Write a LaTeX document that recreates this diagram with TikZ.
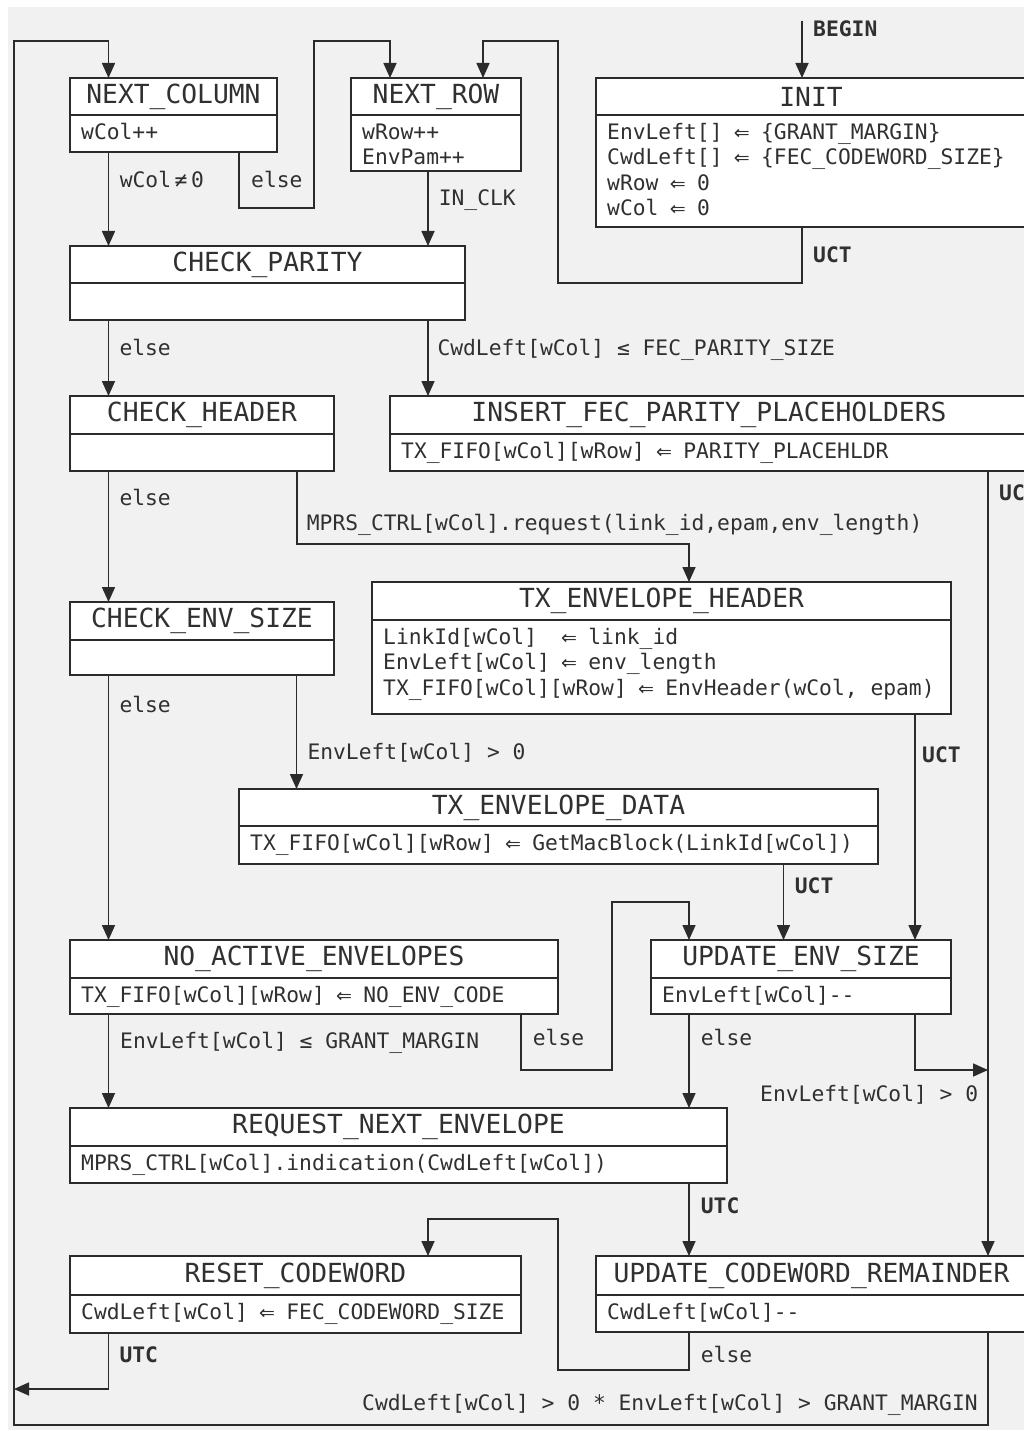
\documentclass[tikz,border=0pt]{standalone}
\usepackage{fontspec}
\usetikzlibrary{arrows.meta}
\newfontfamily\dvmono{DejaVu Sans Mono}
\newfontfamily\dvsans{DejaVu Sans}
\newcommand\hdrfont{\dvmono\fontsize{26.3pt}{30pt}\selectfont}
\newcommand\bodyfont{\dvmono\fontsize{21.3pt}{25pt}\selectfont}
% assignment arrow, set one monospace cell wide
\newcommand\assign{\makebox[12.85pt][c]{\dvsans\fontsize{19pt}{19pt}\selectfont ⇐}}
\definecolor{bggray}{HTML}{F1F1F1}
\definecolor{ink}{HTML}{2B2B2B}
\definecolor{txt}{HTML}{303030}

\tikzset{
  hdrbox/.style={draw=ink, line width=1.6pt, fill=white, inner sep=0pt, outer sep=0pt,
    anchor=north west, font=\hdrfont, text=txt},
  bodybox/.style={draw=ink, line width=1.6pt, fill=white, inner sep=0pt, outer sep=0pt,
    anchor=north west},
  bodytxt/.style={anchor=base west, inner sep=0pt, font=\bodyfont, text=txt},
  lbl/.style={anchor=base west, inner sep=0pt, font=\bodyfont, text=txt},
  lblb/.style={lbl, font=\bodyfont\bfseries},
  conn/.style={draw=ink, line width=1.6pt, -{Triangle[length=15pt,width=13pt]}},
}

% state: title row and action row
% #1 name, #2 left, #3 top, #4 right, #5 divider, #6 bottom, #7 title
\newcommand\statebox[7]{%
  \node[hdrbox, minimum width={(#4-#2)*1pt}, minimum height={(#5-#3)*1pt}] (#1) at (#2,#3) {#7};
  \node[bodybox, minimum width={(#4-#2)*1pt}, minimum height={(#6-#5)*1pt}] (#1-b) at (#2,#5) {};
}
% action lines: #1 name, #2 left, #3 divider, #4 list of lines
\newcommand\bodylines[4]{%
  \foreach \bl [count=\i] in {#4} {
    \node[bodytxt] (#1-t\i) at ({#2+11},{#3+24.5+(\i-1)*25.3}) {\bl};
  }
}

\begin{document}
\begin{tikzpicture}[x=1pt, y=-1pt]
\useasboundingbox (0,0) rectangle (1024,1431);
\fill[white] (0,0) rectangle (1024,1431);
\fill[bggray] (8,7) rectangle (1024,1430);

% ---- states ----
\statebox{ncol}{70}{78}{277}{115}{152}{NEXT\_COLUMN}
\bodylines{ncol}{70}{115}{wCol++}

\statebox{nrow}{351}{78}{521}{115}{171}{NEXT\_ROW}
\bodylines{nrow}{351}{115}{wRow++,EnvPam++}

\statebox{init}{596}{78}{1026}{115}{227}{INIT}
\bodylines{init}{596}{115}{EnvLeft[] \assign{} \{GRANT\_MARGIN\},CwdLeft[] \assign{} \{FEC\_CODEWORD\_SIZE\},wRow \assign{} 0,wCol \assign{} 0}

\statebox{cpar}{70}{246}{465}{283}{320}{CHECK\_PARITY}

\statebox{chdr}{70}{396}{334}{434}{471}{CHECK\_HEADER}

\statebox{ifec}{390}{396}{1028}{434}{471}{INSERT\_FEC\_PARITY\_PLACEHOLDERS}
\bodylines{ifec}{390}{434}{TX\_FIFO[wCol][wRow] \assign{} PARITY\_PLACEHLDR}

\statebox{tehd}{372}{582}{951}{620}{714}{TX\_ENVELOPE\_HEADER}
\bodylines{tehd}{372}{620}{LinkId[wCol]\ \ \assign{} link\_id,EnvLeft[wCol] \assign{} env\_length,{TX\_FIFO[wCol][wRow] \assign{} EnvHeader(wCol, epam)}}

\statebox{cenv}{70}{602}{334}{640}{675}{CHECK\_ENV\_SIZE}

\statebox{tedt}{239}{789}{878}{826}{864}{TX\_ENVELOPE\_DATA}
\bodylines{tedt}{239}{826}{TX\_FIFO[wCol][wRow] \assign{} GetMacBlock(LinkId[wCol])}

\statebox{noae}{70}{940}{558}{978}{1014}{NO\_ACTIVE\_ENVELOPES}
\bodylines{noae}{70}{978}{TX\_FIFO[wCol][wRow] \assign{} NO\_ENV\_CODE}

\statebox{uenv}{651}{940}{951}{978}{1014}{UPDATE\_ENV\_SIZE}
\bodylines{uenv}{651}{978}{EnvLeft[wCol]{-}{-}}

\statebox{rqne}{70}{1108}{727}{1146}{1183}{REQUEST\_NEXT\_ENVELOPE}
\bodylines{rqne}{70}{1146}{MPRS\_CTRL[wCol].indication(CwdLeft[wCol])}

\statebox{rcwd}{70}{1256}{521}{1295}{1333}{RESET\_CODEWORD}
\bodylines{rcwd}{70}{1295}{CwdLeft[wCol] \assign{} FEC\_CODEWORD\_SIZE}

\statebox{ucwr}{596}{1256}{1027}{1295}{1332}{UPDATE\_CODEWORD\_REMAINDER}
\bodylines{ucwr}{596}{1295}{CwdLeft[wCol]{-}{-}}

% ---- bend points ----
\coordinate (begin) at (802,21);
\coordinate (u1) at (558,283);
\coordinate (u2) at (558,41);
\coordinate (e1) at (314,208);
\coordinate (e2) at (314,41);
\coordinate (h1) at (297,544);
\coordinate (n1) at (612,1070);
\coordinate (n2) at (612,902);
\coordinate (j1) at (988,1070);
\coordinate (r1) at (558,1370);
\coordinate (r2) at (558,1219);
\coordinate (o1) at (14,1389);
\coordinate (L1) at (14,1425);
\coordinate (L2) at (14,41);

% ---- transitions ----
\draw[conn] (begin) -- ([xshift=206pt]init.north west);
\draw[conn] ([xshift=206pt]init-b.south west) |- (u1) -- (u2) -| ([xshift=132pt]nrow.north west);
\draw[conn] ([xshift=38.5pt]ncol-b.south west) -- ([xshift=38.5pt]cpar.north west);
\draw[conn] ([xshift=169pt]ncol-b.south west) |- (e1) -- (e2) -| ([xshift=39pt]nrow.north west);
\draw[conn] ([xshift=77pt]nrow-b.south west) -- ([xshift=358pt]cpar.north west);
\draw[conn] ([xshift=38.5pt]cpar-b.south west) -- ([xshift=38.5pt]chdr.north west);
\draw[conn] ([xshift=358pt]cpar-b.south west) -- ([xshift=38pt]ifec.north west);
\draw[conn] ([xshift=598pt]ifec-b.south west) -- ([xshift=392pt]ucwr.north west);
\draw[conn] ([xshift=38.5pt]chdr-b.south west) -- ([xshift=38.5pt]cenv.north west);
\draw[conn] ([xshift=227pt]chdr-b.south west) -- (h1) -| ([xshift=317pt]tehd.north west);
\draw[conn] ([xshift=226.5pt]cenv-b.south west) -- ([xshift=57.5pt]tedt.north west);
\draw[conn] ([xshift=38.5pt]cenv-b.south west) -- ([xshift=38.5pt]noae.north west);
\draw[conn] ([xshift=543pt]tehd-b.south west) -- ([xshift=264pt]uenv.north west);
\draw[conn] ([xshift=544.5pt]tedt-b.south west) -- ([xshift=132.5pt]uenv.north west);
\draw[conn] ([xshift=451pt]noae-b.south west) |- (n1) -- (n2) -| ([xshift=38pt]uenv.north west);
\draw[conn] ([xshift=38.5pt]noae-b.south west) -- ([xshift=38.5pt]rqne.north west);
\draw[conn] ([xshift=38pt]uenv-b.south west) -- ([xshift=619pt]rqne.north west);
\draw[conn] ([xshift=264pt]uenv-b.south west) |- (j1);
\draw[conn] ([xshift=619pt]rqne-b.south west) -- ([xshift=93pt]ucwr.north west);
\draw[conn] ([xshift=93pt]ucwr-b.south west) |- (r1) -- (r2) -| ([xshift=358pt]rcwd.north west);
\draw[conn] ([xshift=38.5pt]rcwd-b.south west) |- (o1);
\draw[conn] ([xshift=392pt]ucwr-b.south west) |- (L1) -- (L2) -| ([xshift=38.5pt]ncol.north west);

% ---- transition conditions ----
\node[lblb] (l-begin) at (813,37) {BEGIN};
\node[lblb] (l-init) at (813,262) {UCT};
\node[lbl] (l-ncol1) at (119.6,188) {wCol\,≠\,0};
\node[lbl] (l-ncol2) at (251,188) {else};
\node[lbl] (l-nrow) at (438.6,206) {IN\_CLK};
\node[lbl] (l-cpar1) at (119.3,355) {else};
\node[lbl] (l-cpar2) at (437.3,355) {CwdLeft[wCol] ≤ FEC\_PARITY\_SIZE};
\node[lblb] (l-ifec) at (999,500) {UCT};
\node[lbl] (l-chdr1) at (119.3,505) {else};
\node[lbl] (l-chdr2) at (306.7,530) {MPRS\_CTRL[wCol].request(link\_id,epam,env\_length)};
\node[lbl] (l-cenv1) at (119.3,712) {else};
\node[lbl] (l-cenv2) at (307.3,759) {EnvLeft[wCol] > 0};
\node[lblb] (l-tehd) at (922,762) {UCT};
\node[lblb] (l-tedt) at (794.7,893) {UCT};
\node[lbl] (l-noae1) at (120,1048) {EnvLeft[wCol] ≤ GRANT\_MARGIN};
\node[lbl] (l-noae2) at (532.7,1045) {else};
\node[lbl] (l-uenv1) at (700.7,1045) {else};
\node[lbl] (l-uenv2) at (760,1101) {EnvLeft[wCol] > 0};
\node[lblb] (l-rqne) at (700.7,1213) {UTC};
\node[lblb] (l-rcwd) at (119.3,1362) {UTC};
\node[lbl] (l-ucwr1) at (700.7,1362) {else};
\node[lbl] (l-ucwr2) at (362,1410) {CwdLeft[wCol] > 0 * EnvLeft[wCol] > GRANT\_MARGIN};
\end{tikzpicture}
\end{document}
